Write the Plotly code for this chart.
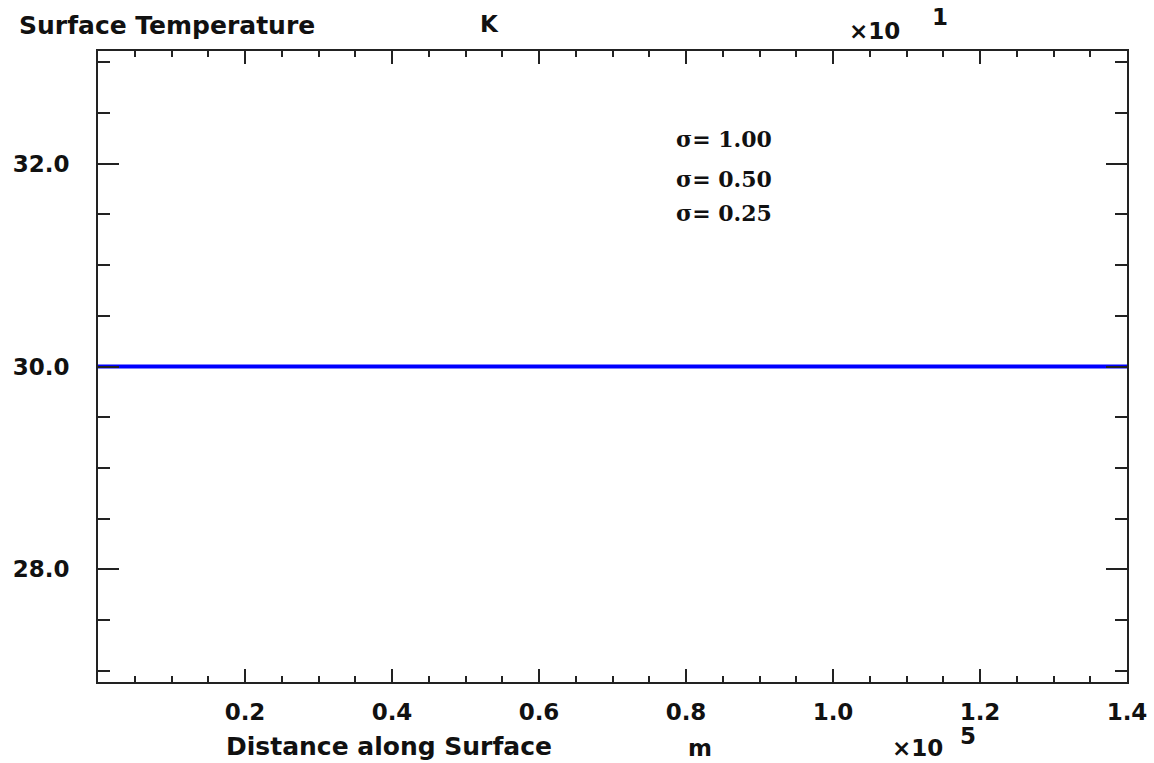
import plotly.graph_objects as go

# ---- data (displayed units: distance x10^5 m, temperature x10^1 K) ----
distance = [0.0, 0.2, 0.4, 0.6, 0.8, 1.0, 1.2, 1.4]
temp_sigma_100 = [30.0, 30.0, 30.0, 30.0, 30.0, 30.0, 30.0, 30.0]
temp_sigma_050 = [30.0, 30.0, 30.0, 30.0, 30.0, 30.0, 30.0, 30.0]
temp_sigma_025 = [30.0, 30.0, 30.0, 30.0, 30.0, 30.0, 30.0, 30.0]
series_labels = ["σ= 1.00", "σ= 0.50", "σ= 0.25"]
series_colors = ["#0000ff", "#0000ff", "#0000ff"]
series_widths = [2, 2, 4]
x_tickvals = [0.2, 0.4, 0.6, 0.8, 1.0, 1.2, 1.4]
x_ticktext = ["0.2", "0.4", "0.6", "0.8", "1.0", "1.2", "1.4"]
y_tickvals = [28.0, 30.0, 32.0]
y_ticktext = ["28.0", "30.0", "32.0"]

W, H = 1154, 763
L, R, T, B = 98, 27, 51, 81
pw, ph = W - L - R, H - T - B

def px(x):
    return (x - L) / pw

def py(y):
    return (H - B - y) / ph

fig = go.Figure()
for vals, name, col, wd in zip([temp_sigma_100, temp_sigma_050, temp_sigma_025],
                               series_labels, series_colors, series_widths):
    fig.add_trace(go.Scatter(x=distance, y=vals, mode="lines", name=name,
                             line=dict(color=col, width=wd), showlegend=False,
                             cliponaxis=False))

sans = dict(family="DejaVu Sans", size=23, color="#111111", weight="bold")
sans_big = dict(family="DejaVu Sans", size=25, color="#111111", weight="bold")
serif = dict(family="DejaVu Serif", size=22, color="#111111", weight="bold")

axis_common = dict(showline=True, linecolor="#222222", linewidth=2, mirror="allticks",
                   ticks="inside", tickcolor="#222222", tickwidth=2,
                   showgrid=False, zeroline=False, tickfont=sans)

fig.update_xaxes(range=[0, 1.4], tickmode="array", tickvals=[0.0] + x_tickvals,
                 ticktext=[""] + x_ticktext, ticklen=13, ticklabelstandoff=8,
                 minor=dict(dtick=0.05, tick0=0, ticks="inside", ticklen=6, tickwidth=2,
                            tickcolor="#222222", showgrid=False),
                 **axis_common)
fig.update_yaxes(range=[26.89, 33.11], tickmode="array", tickvals=y_tickvals,
                 ticktext=y_ticktext, ticklen=21, ticklabelstandoff=22,
                 minor=dict(dtick=0.5, tick0=0, ticks="inside", ticklen=12, tickwidth=2,
                            tickcolor="#222222", showgrid=False),
                 **axis_common)

ann = []
ann.append(dict(text="Surface Temperature", x=px(17), y=py(25), xanchor="left", yanchor="middle", font=sans_big))
ann.append(dict(text="K", x=px(489), y=py(24), xanchor="center", yanchor="middle", font=sans))
ann.append(dict(text="×10", x=px(874), y=py(31), xanchor="center", yanchor="middle", font=sans))
ann.append(dict(text="1", x=px(940), y=py(17), xanchor="center", yanchor="middle", font=sans))
ann.append(dict(text="Distance along Surface", x=px(224), y=py(746), xanchor="left", yanchor="middle", font=sans_big))
ann.append(dict(text="m", x=px(700), y=py(748), xanchor="center", yanchor="middle", font=sans))
ann.append(dict(text="×10", x=px(917), y=py(748), xanchor="center", yanchor="middle", font=sans))
ann.append(dict(text="5", x=px(968), y=py(736), xanchor="center", yanchor="middle", font=sans))
for lbl, yy in zip(series_labels, [139, 179, 213]):
    ann.append(dict(text=lbl, x=px(674), y=py(yy), xanchor="left", yanchor="middle", font=serif))
for a in ann:
    a.update(xref="paper", yref="paper", showarrow=False)

fig.update_layout(width=W, height=H, margin=dict(l=L, r=R, t=T, b=B, autoexpand=False),
                  paper_bgcolor="white", plot_bgcolor="white", annotations=ann)

fig.write_html("out.html", config={"displayModeBar": False})
